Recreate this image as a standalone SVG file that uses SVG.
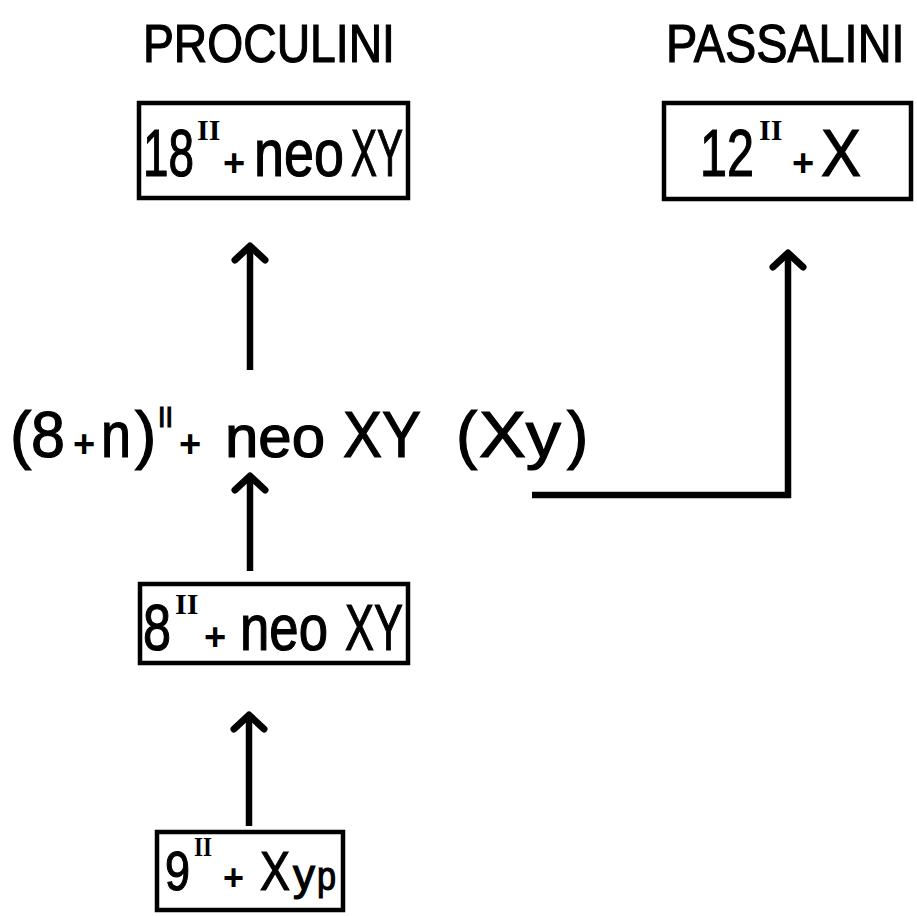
<svg xmlns="http://www.w3.org/2000/svg" width="917" height="916" viewBox="0 0 917 916">
<style>
.t{font-family:"Liberation Sans","DejaVu Sans",sans-serif;fill:#000;stroke:#000;stroke-width:1.2}
.r{font-family:"Liberation Serif","DejaVu Serif",serif;font-weight:bold;fill:#000}
.p{font-family:"Liberation Sans","DejaVu Sans",sans-serif;font-weight:bold;fill:#000}
.box{fill:#fff;stroke:#000;stroke-width:4.5}
.c{fill:none;stroke:#000;stroke-width:6.5;stroke-linecap:butt;stroke-linejoin:miter}
</style>
<defs>
<marker id="ah" markerUnits="userSpaceOnUse" viewBox="-24 -24 48 48" markerWidth="48" markerHeight="48" refX="0" refY="0" orient="auto">
<path d="M-14,-15 L0,0 L-14,15" fill="none" stroke="#000" stroke-width="7" stroke-linecap="round" stroke-linejoin="round"/>
</marker>
</defs>
<rect width="917" height="916" fill="#fff"/>

<g id="title-proculini"><text class="t" font-size="54" transform="translate(143,62) scale(0.857,1)">PROCULINI</text></g>
<g id="title-passalini"><text class="t" font-size="54" transform="translate(666,62) scale(0.867,1)">PASSALINI</text></g>

<g id="node-proculini">
<rect class="box" x="139" y="103" width="269" height="95"/>
<text class="t" font-size="67" transform="translate(143,176) scale(0.685,1)">18</text>
<text class="r" x="197" y="140" font-size="30">II</text>
<text class="p" x="223" y="176" font-size="38">+</text>
<text class="t" font-size="67" transform="translate(254,176) scale(0.805,1)">neo</text>
<text class="t" font-size="67" transform="translate(351,176) scale(0.582,1)">XY</text>
</g>

<g id="node-passalini">
<rect class="box" x="664" y="103" width="247" height="96"/>
<text class="t" font-size="67" transform="translate(700,176) scale(0.725,1)">12</text>
<text class="r" x="759" y="140" font-size="30">II</text>
<text class="p" x="792" y="176" font-size="38">+</text>
<text class="t" font-size="67" transform="translate(821,176) scale(0.895,1)">X</text>
</g>

<g id="node-intermediate">
<text class="t" x="10" y="457" font-size="64">(</text>
<text class="t" font-size="64" transform="translate(31,457) scale(0.955,1)">8</text>
<text class="p" x="73" y="457" font-size="38">+</text>
<text class="t" font-size="64" transform="translate(101,457) scale(0.843,1)">n</text>
<text class="t" x="135" y="457" font-size="64">)</text>
<text class="t" font-size="30" transform="translate(158,427) scale(0.9,1)">II</text>
<text class="p" x="179" y="457" font-size="38">+</text>
<text class="t" x="225" y="457" font-size="60">neo</text>
<text class="t" font-size="64" transform="translate(343,457) scale(0.913,1)">XY</text>
<text class="t" x="456" y="457" font-size="64">(</text>
<text class="t" x="479" y="457" font-size="64" textLength="82" lengthAdjust="spacingAndGlyphs">Xy</text>
<text class="t" x="567" y="457" font-size="64">)</text>
</g>

<g id="node-8II">
<rect class="box" x="140" y="584" width="268" height="79"/>
<text class="t" font-size="64" transform="translate(143,650) scale(0.787,1)">8</text>
<text class="r" x="175" y="614" font-size="30">II</text>
<text class="p" x="204" y="650" font-size="38">+</text>
<text class="t" font-size="64" transform="translate(240,650) scale(0.824,1)">neo</text>
<text class="t" font-size="64" transform="translate(345,650) scale(0.679,1)">XY</text>
</g>

<g id="node-9II">
<rect class="box" x="157" y="832" width="186" height="78"/>
<text class="t" font-size="56" transform="translate(165,890) scale(0.803,1)">9</text>
<text class="r" font-size="28" transform="translate(194,856) scale(0.826,1)">II</text>
<text class="p" x="223" y="890" font-size="36">+</text>
<text class="t" font-size="56" transform="translate(260,890) scale(0.803,1)">X</text>
<text class="t" x="293" y="890" font-size="44">y</text>
<text class="t" font-size="40" transform="translate(317,890) scale(0.855,1)">p</text>
</g>

<g id="connectors">
<line class="c" x1="250" y1="370" x2="250" y2="246" marker-end="url(#ah)"/>
<line class="c" x1="250" y1="571" x2="250" y2="476" marker-end="url(#ah)"/>
<line class="c" x1="249" y1="826" x2="249" y2="715" marker-end="url(#ah)"/>
<polyline class="c" points="532,495 788,495 788,253" marker-end="url(#ah)"/>
</g>
</svg>
